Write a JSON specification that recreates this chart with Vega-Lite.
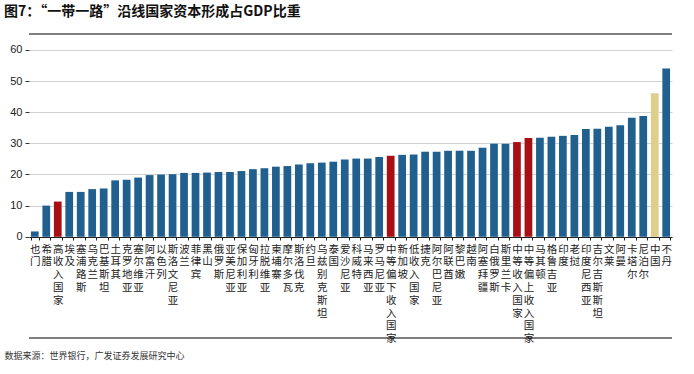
{
  "$schema": "https://vega.github.io/schema/vega-lite/v6.json",
  "autosize": {"type": "none"},
  "width": 643,
  "height": 304,
  "padding": {"left": 29, "top": 34, "right": 22, "bottom": 36},
  "background": "white",
  "title": {
    "text": "图7：“一带一路”沿线国家资本形成占GDP比重",
    "anchor": "start",
    "frame": "group",
    "dx": -25,
    "offset": 14,
    "font": "Noto Sans CJK SC",
    "fontSize": 14,
    "fontWeight": "bold",
    "color": "#111111"
  },
  "config": {
    "view": {"stroke": null},
    "axis": {"labelFont": "Liberation Sans", "titleFont": "Noto Sans CJK SC"}
  },
  "data": {
    "values": [
      {"name": "也门", "value": 1.7, "type": "c"},
      {"name": "希腊", "value": 10.0, "type": "c"},
      {"name": "高收入国家", "value": 11.3, "type": "g"},
      {"name": "埃及", "value": 14.4, "type": "c"},
      {"name": "塞浦路斯", "value": 14.4, "type": "c"},
      {"name": "乌克兰", "value": 15.3, "type": "c"},
      {"name": "巴基斯坦", "value": 15.5, "type": "c"},
      {"name": "土耳其", "value": 18.1, "type": "c"},
      {"name": "克罗地亚", "value": 18.3, "type": "c"},
      {"name": "塞尔维亚", "value": 19.0, "type": "c"},
      {"name": "阿富汗", "value": 19.8, "type": "c"},
      {"name": "以色列", "value": 20.0, "type": "c"},
      {"name": "斯洛文尼亚", "value": 20.1, "type": "c"},
      {"name": "波兰", "value": 20.5, "type": "c"},
      {"name": "菲律宾", "value": 20.5, "type": "c"},
      {"name": "黑山", "value": 20.6, "type": "c"},
      {"name": "俄罗斯", "value": 20.8, "type": "c"},
      {"name": "亚美尼亚", "value": 20.8, "type": "c"},
      {"name": "保加利亚", "value": 21.1, "type": "c"},
      {"name": "匈牙利", "value": 21.7, "type": "c"},
      {"name": "拉脱维亚", "value": 22.0, "type": "c"},
      {"name": "柬埔寨", "value": 22.5, "type": "c"},
      {"name": "摩尔多瓦", "value": 22.7, "type": "c"},
      {"name": "斯洛伐克", "value": 23.2, "type": "c"},
      {"name": "约旦", "value": 23.6, "type": "c"},
      {"name": "乌兹别克斯坦", "value": 23.8, "type": "c"},
      {"name": "泰国", "value": 24.1, "type": "c"},
      {"name": "爱沙尼亚", "value": 24.8, "type": "c"},
      {"name": "科威特", "value": 25.1, "type": "c"},
      {"name": "马来西亚", "value": 25.1, "type": "c"},
      {"name": "罗马尼亚", "value": 25.6, "type": "c"},
      {"name": "中等偏下收入国家", "value": 26.0, "type": "g"},
      {"name": "新加坡", "value": 26.3, "type": "c"},
      {"name": "低收入国家", "value": 26.4, "type": "c"},
      {"name": "捷克", "value": 27.3, "type": "c"},
      {"name": "阿尔巴尼亚", "value": 27.3, "type": "c"},
      {"name": "阿联酋", "value": 27.6, "type": "c"},
      {"name": "黎巴嫩", "value": 27.6, "type": "c"},
      {"name": "越南", "value": 27.6, "type": "c"},
      {"name": "阿塞拜疆", "value": 28.6, "type": "c"},
      {"name": "白俄罗斯", "value": 29.9, "type": "c"},
      {"name": "斯里兰卡", "value": 29.9, "type": "c"},
      {"name": "中等收入国家", "value": 30.4, "type": "g"},
      {"name": "中等偏上收入国家", "value": 31.7, "type": "g"},
      {"name": "马其顿", "value": 31.8, "type": "c"},
      {"name": "格鲁吉亚", "value": 32.1, "type": "c"},
      {"name": "印度", "value": 32.4, "type": "c"},
      {"name": "老挝", "value": 32.7, "type": "c"},
      {"name": "印度尼西亚", "value": 34.6, "type": "c"},
      {"name": "吉尔吉斯斯坦", "value": 34.7, "type": "c"},
      {"name": "文莱", "value": 35.3, "type": "c"},
      {"name": "阿曼", "value": 35.8, "type": "c"},
      {"name": "卡塔尔", "value": 38.2, "type": "c"},
      {"name": "尼泊尔", "value": 38.8, "type": "c"},
      {"name": "中国", "value": 46.1, "type": "cn"},
      {"name": "不丹", "value": 54.0, "type": "c"}
    ]
  },
  "encoding": {
    "y": {
      "field": "value",
      "type": "quantitative",
      "scale": {"domain": [-32.5, 65.1], "nice": false, "zero": false},
      "axis": {
        "values": [0, 10, 20, 30, 40, 50, 60],
        "title": null,
        "grid": true,
        "gridColor": "#d2d2d2",
        "gridWidth": 1,
        "domain": false,
        "tickColor": "#333333",
        "tickSize": 4,
        "labelPadding": 3,
        "labelFontSize": 11,
        "labelColor": "#222222",
        "labelOverlap": false
      }
    }
  },
  "layer": [
    {
      "mark": {"type": "bar", "width": {"band": 1}, "color": "#ddf4fc"},
      "encoding": {
        "x": {
          "field": "name",
          "type": "nominal",
          "sort": null,
          "scale": {"paddingInner": 0.33, "paddingOuter": 0.17},
          "axis": {
            "offset": -101,
            "title": "数据来源：世界银行，广发证券发展研究中心",
            "titleFont": "Noto Sans CJK SC",
            "titleFontSize": 9,
            "titleFontWeight": "normal",
            "titleColor": "#333333",
            "titleAnchor": "start",
            "titleAlign": "left",
            "titleBaseline": "top",
            "titleX": -25,
            "titleY": 114,
            "labelAngle": 0,
            "labelExpr": "split(datum.label, '')",
            "labelFont": "Noto Sans CJK SC",
            "labelFontSize": 10.5,
            "labelLineHeight": 12.8,
            "labelBaseline": "top",
            "labelAlign": "center",
            "labelColor": "#222222",
            "labelPadding": 4,
            "labelOverlap": false,
            "labelLimit": 0,
            "tickBand": "extent",
            "tickSize": 3,
            "tickColor": "#222222",
            "domainColor": "#222222"
          }
        },
        "y2": {"datum": 0}
      }
    },
    {
      "mark": {"type": "bar"},
      "encoding": {
        "x": {"field": "name", "type": "nominal", "sort": null},
        "y2": {"datum": 0},
        "color": {
          "field": "type",
          "type": "nominal",
          "scale": {"domain": ["c", "g", "cn"], "range": ["#215f8e", "#a80f14", "#e0cf8b"]},
          "legend": null
        }
      }
    },
    {
      "data": {"values": [{"value": 65.1}, {"value": -32.5}]},
      "mark": {"type": "rule", "color": "#000000", "strokeWidth": 1.2, "clip": false},
      "encoding": {}
    }
  ]
}
